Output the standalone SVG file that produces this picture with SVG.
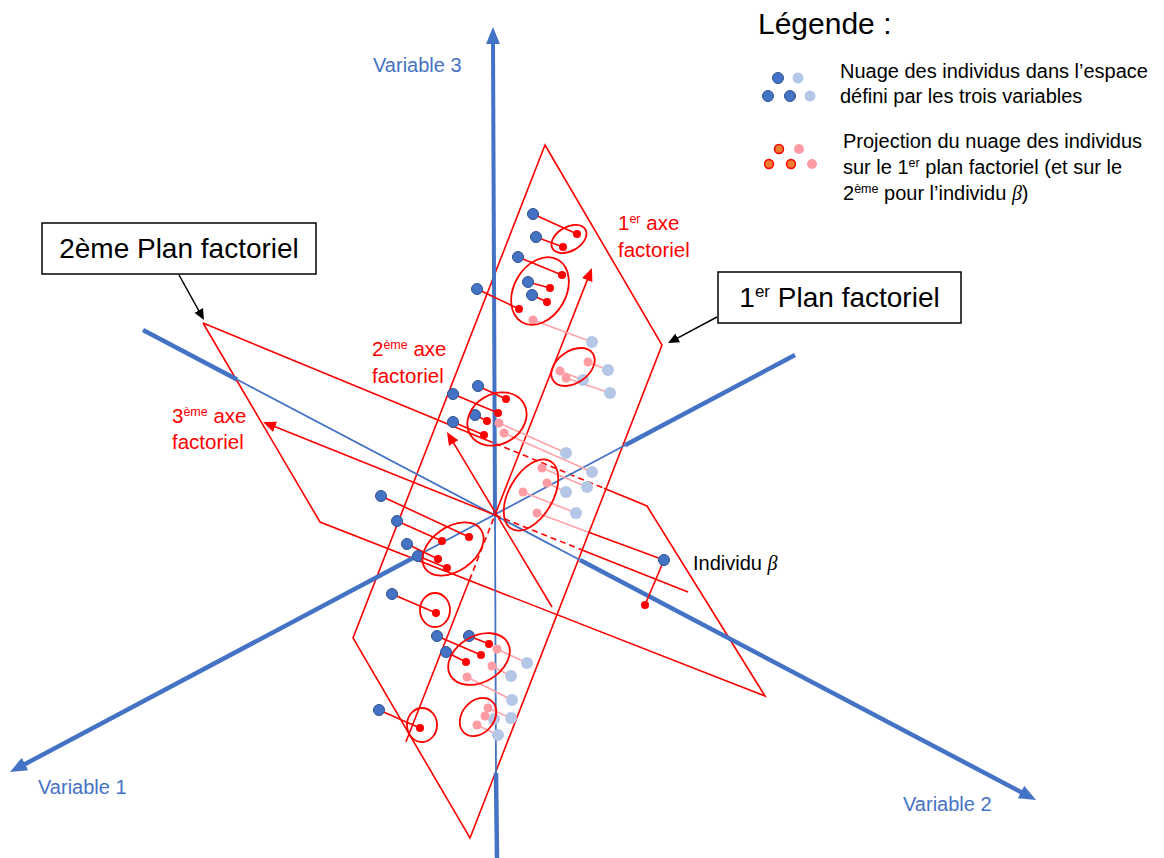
<svg xmlns="http://www.w3.org/2000/svg" width="1164" height="858" viewBox="0 0 1164 858">
<style>
text{font-family:"Liberation Sans",Arial,sans-serif}
.blab{fill:#4472C4;font-size:20px}
.rlab{fill:#FF0000;font-size:20.5px}
.klab{fill:#000;font-size:20px}
.sup{font-size:12.5px}
.beta{font-family:"Liberation Serif","DejaVu Serif",serif;font-style:italic}
.plane{fill:none;stroke:#FF0000;stroke-width:1.6;stroke-linejoin:miter}
.rl{stroke:#FF0000;stroke-width:1.6;fill:none}
.dash{stroke-dasharray:6 4}
.pl{stroke:#FFA3A8;stroke-width:1.6;fill:none}
.ax{stroke:#4472C4;fill:none}
.thick{stroke-width:4.5}
.thin{stroke-width:1.8}
.bd{fill:#4472C4;stroke:#2F528F;stroke-width:1}
.lb{fill:#B4C7E7}
.rd{fill:#FF0000}
.pk{fill:#FF9CA3}
.el{fill:none;stroke:#FF0000;stroke-width:1.8}
.box{fill:#fff;stroke:#000;stroke-width:1.5}
.karrow{stroke:#000;stroke-width:1.5;fill:none}
</style>
<defs>
<marker id="ab" markerUnits="userSpaceOnUse" markerWidth="18" markerHeight="14" refX="4" refY="7" orient="auto"><path d="M0,0 L17,7 L0,14 Z" fill="#4472C4"/></marker>
<marker id="ar" markerUnits="userSpaceOnUse" markerWidth="14" markerHeight="11" refX="4" refY="5.5" orient="auto"><path d="M0,0 L13,5.5 L0,11 Z" fill="#FF0000"/></marker>
<marker id="ak" markerUnits="userSpaceOnUse" markerWidth="12" markerHeight="10" refX="3" refY="5" orient="auto"><path d="M0,0 L11,5 L0,10 Z" fill="#000"/></marker>
</defs>
<rect width="1164" height="858" fill="#fff"/>

<g id="plane1">
<polygon class="plane" points="545,145 662,345 470,838 353,638"/>
</g>
<g id="plane2">
<line class="rl" x1="203" y1="323" x2="495" y2="443.4"/>
<line class="rl dash" x1="495" y1="443.4" x2="604" y2="488.3"/>
<polyline class="plane" points="604,488.3 647,506 765,696 320,522 203,323"/>
</g>

<g id="connectors">
<g id="variable-axes">
<line class="ax thick" x1="497" y1="858" x2="496" y2="773"/>
<line class="ax thin" x1="496" y1="773" x2="495" y2="515"/>
<line class="ax" stroke-width="4" x1="495" y1="515" x2="493" y2="40" marker-end="url(#ab)"/>
<line class="ax thick" x1="795" y1="355" x2="625" y2="445.3"/>
<line class="ax thin" x1="625" y1="445.3" x2="413" y2="558"/>
<line class="ax thick" x1="413" y1="558" x2="21.5" y2="765.9" marker-end="url(#ab)"/>
<line class="ax thick" x1="143" y1="330" x2="237" y2="379.5"/>
<line class="ax thin" x1="237" y1="379.5" x2="580" y2="560"/>
<line class="ax thick" x1="580" y1="560" x2="1024.5" y2="793.9" marker-end="url(#ab)"/>
</g>
<g id="factor-axes">
<line class="rl" x1="405.9" y1="742" x2="469.5" y2="580"/>
<line class="rl dash" x1="469.5" y1="580" x2="495" y2="515"/>
<line class="rl" x1="495" y1="515" x2="588.7" y2="276.4" marker-end="url(#ar)"/>
<line class="rl" x1="552" y1="607" x2="451.6" y2="439.7" marker-end="url(#ar)"/>
<line class="rl" x1="495" y1="515" x2="271.4" y2="425.3" marker-end="url(#ar)"/>
<line class="rl dash" x1="495" y1="515" x2="582" y2="550"/>
<line class="rl" x1="582" y1="550" x2="688" y2="592"/>
</g>
<g id="label-arrows">
<line class="karrow" x1="179" y1="275" x2="200.1" y2="313" marker-end="url(#ak)"/>
<line class="karrow" x1="717" y1="317" x2="675.1" y2="339.3" marker-end="url(#ak)"/>
</g>
</g>

<g id="individuals">
<g id="projection-lines">
<line class="rl" x1="533" y1="214" x2="577" y2="234"/>
<line class="rl" x1="536" y1="237" x2="563" y2="247"/>
<line class="rl" x1="518" y1="257" x2="562" y2="275"/>
<line class="rl" x1="528" y1="282" x2="550" y2="288"/>
<line class="rl" x1="532" y1="295" x2="547" y2="302"/>
<line class="rl" x1="477" y1="289" x2="519" y2="309"/>
<line class="pl" x1="533" y1="320" x2="592" y2="342"/>
<line class="pl" x1="588" y1="362" x2="608" y2="370"/>
<line class="pl" x1="560" y1="371" x2="583" y2="380"/>
<line class="pl" x1="566" y1="378" x2="610" y2="393"/>
<line class="rl" x1="478" y1="386" x2="506" y2="399"/>
<line class="rl" x1="453" y1="394" x2="498" y2="413"/>
<line class="rl" x1="475" y1="415" x2="487" y2="421"/>
<line class="rl" x1="453" y1="422" x2="484" y2="435"/>
<line class="pl" x1="499" y1="423" x2="566" y2="453"/>
<line class="pl" x1="504" y1="433" x2="592" y2="472"/>
<line class="pl" x1="542" y1="468" x2="587" y2="487"/>
<line class="pl" x1="547" y1="483" x2="566" y2="492"/>
<line class="pl" x1="523" y1="492" x2="576" y2="513"/>
<line class="pl" x1="537" y1="513" x2="588" y2="532"/>
<line class="rl" x1="588" y1="532" x2="664" y2="560"/>
<line class="rl" x1="664" y1="560" x2="645" y2="605"/>
<line class="rl" x1="381" y1="496" x2="469" y2="537"/>
<line class="rl" x1="397" y1="521" x2="442" y2="541"/>
<line class="rl" x1="407" y1="544" x2="438" y2="559"/>
<line class="rl" x1="418" y1="556" x2="447" y2="568"/>
<line class="rl" x1="392" y1="594" x2="436" y2="613"/>
<line class="rl" x1="437" y1="636" x2="481" y2="655"/>
<line class="rl" x1="469" y1="636" x2="489" y2="644"/>
<line class="rl" x1="446" y1="652" x2="466" y2="662"/>
<line class="pl" x1="497" y1="649" x2="527" y2="663"/>
<line class="pl" x1="492" y1="666" x2="511" y2="676"/>
<line class="pl" x1="467" y1="677" x2="512" y2="700"/>
<line class="pl" x1="488" y1="708" x2="511" y2="718"/>
<line class="pl" x1="485" y1="716" x2="494" y2="719"/>
<line class="pl" x1="477" y1="725" x2="498" y2="735"/>
<line class="rl" x1="379" y1="710" x2="420" y2="728"/>
</g>
<g id="light-dots">
<circle class="lb" cx="592" cy="342" r="6"/>
<circle class="lb" cx="608" cy="370" r="6"/>
<circle class="lb" cx="583" cy="380" r="6"/>
<circle class="lb" cx="610" cy="393" r="6"/>
<circle class="lb" cx="566" cy="453" r="6"/>
<circle class="lb" cx="592" cy="472" r="6"/>
<circle class="lb" cx="587" cy="487" r="6"/>
<circle class="lb" cx="566" cy="492" r="6"/>
<circle class="lb" cx="576" cy="513" r="6"/>
<circle class="lb" cx="527" cy="663" r="6"/>
<circle class="lb" cx="511" cy="676" r="6"/>
<circle class="lb" cx="512" cy="700" r="6"/>
<circle class="lb" cx="511" cy="718" r="6"/>
<circle class="lb" cx="494" cy="719" r="6"/>
<circle class="lb" cx="498" cy="735" r="6"/>
<circle class="pk" cx="533" cy="320" r="4.5"/>
<circle class="pk" cx="588" cy="362" r="4.5"/>
<circle class="pk" cx="560" cy="371" r="4.5"/>
<circle class="pk" cx="566" cy="378" r="4.5"/>
<circle class="pk" cx="499" cy="423" r="4.5"/>
<circle class="pk" cx="504" cy="433" r="4.5"/>
<circle class="pk" cx="542" cy="468" r="4.5"/>
<circle class="pk" cx="547" cy="483" r="4.5"/>
<circle class="pk" cx="523" cy="492" r="4.5"/>
<circle class="pk" cx="537" cy="513" r="4.5"/>
<circle class="pk" cx="497" cy="649" r="4.5"/>
<circle class="pk" cx="492" cy="666" r="4.5"/>
<circle class="pk" cx="467" cy="677" r="4.5"/>
<circle class="pk" cx="488" cy="708" r="4.5"/>
<circle class="pk" cx="485" cy="716" r="4.5"/>
<circle class="pk" cx="477" cy="725" r="4.5"/>
</g>
<g id="blue-dots">
<circle class="bd" cx="533" cy="214" r="5.5"/>
<circle class="bd" cx="536" cy="237" r="5.5"/>
<circle class="bd" cx="518" cy="257" r="5.5"/>
<circle class="bd" cx="528" cy="282" r="5.5"/>
<circle class="bd" cx="532" cy="295" r="5.5"/>
<circle class="bd" cx="477" cy="289" r="5.5"/>
<circle class="bd" cx="478" cy="386" r="5.5"/>
<circle class="bd" cx="453" cy="394" r="5.5"/>
<circle class="bd" cx="475" cy="415" r="5.5"/>
<circle class="bd" cx="453" cy="422" r="5.5"/>
<circle class="bd" cx="381" cy="496" r="5.5"/>
<circle class="bd" cx="397" cy="521" r="5.5"/>
<circle class="bd" cx="407" cy="544" r="5.5"/>
<circle class="bd" cx="418" cy="556" r="5.5"/>
<circle class="bd" cx="392" cy="594" r="5.5"/>
<circle class="bd" cx="437" cy="636" r="5.5"/>
<circle class="bd" cx="469" cy="636" r="5.5"/>
<circle class="bd" cx="446" cy="652" r="5.5"/>
<circle class="bd" cx="379" cy="710" r="5.5"/>
<circle class="bd" cx="664" cy="560" r="5.5"/>
</g>
<g id="red-dots">
<circle class="rd" cx="577" cy="234" r="4"/>
<circle class="rd" cx="563" cy="247" r="4"/>
<circle class="rd" cx="562" cy="275" r="4"/>
<circle class="rd" cx="550" cy="288" r="4"/>
<circle class="rd" cx="547" cy="302" r="4"/>
<circle class="rd" cx="519" cy="309" r="4"/>
<circle class="rd" cx="506" cy="399" r="4"/>
<circle class="rd" cx="498" cy="413" r="4"/>
<circle class="rd" cx="487" cy="421" r="4"/>
<circle class="rd" cx="484" cy="435" r="4"/>
<circle class="rd" cx="469" cy="537" r="4"/>
<circle class="rd" cx="442" cy="541" r="4"/>
<circle class="rd" cx="438" cy="559" r="4"/>
<circle class="rd" cx="447" cy="568" r="4"/>
<circle class="rd" cx="436" cy="613" r="4"/>
<circle class="rd" cx="481" cy="655" r="4"/>
<circle class="rd" cx="489" cy="644" r="4"/>
<circle class="rd" cx="466" cy="662" r="4"/>
<circle class="rd" cx="420" cy="728" r="4"/>
<circle class="rd" cx="645" cy="605" r="4"/>
</g>
<g id="clusters">
<ellipse class="el" cx="569" cy="239" rx="19" ry="12" transform="rotate(-30 569 239)"/>
<ellipse class="el" cx="540" cy="291" rx="36" ry="26" transform="rotate(-60 540 291)"/>
<ellipse class="el" cx="573" cy="367" rx="24" ry="16" transform="rotate(-35 573 367)"/>
<ellipse class="el" cx="497" cy="419" rx="31" ry="25" transform="rotate(-30 497 419)"/>
<ellipse class="el" cx="531" cy="495" rx="39" ry="22" transform="rotate(-60 531 495)"/>
<ellipse class="el" cx="453" cy="549" rx="34" ry="22" transform="rotate(-35 453 549)"/>
<ellipse class="el" cx="435" cy="610" rx="15" ry="17"/>
<ellipse class="el" cx="479" cy="659" rx="33" ry="23" transform="rotate(-30 479 659)"/>
<ellipse class="el" cx="478" cy="717" rx="21" ry="16" transform="rotate(-50 478 717)"/>
<ellipse class="el" cx="422" cy="725" rx="15" ry="17"/>
</g>
</g>

<g id="axis-labels">
<text class="blab" x="373" y="71.5">Variable 3</text>
<text class="blab" x="38" y="794">Variable 1</text>
<text class="blab" x="903" y="811">Variable 2</text>
<text class="rlab" x="618" y="230">1<tspan class="sup" dy="-7">er</tspan><tspan dy="7"> axe</tspan></text>
<text class="rlab" x="618" y="256.5">factoriel</text>
<text class="rlab" x="372" y="356">2<tspan class="sup" dy="-7">ème</tspan><tspan dy="7"> axe</tspan></text>
<text class="rlab" x="372" y="382.5">factoriel</text>
<text class="rlab" x="172" y="423">3<tspan class="sup" dy="-7">ème</tspan><tspan dy="7"> axe</tspan></text>
<text class="rlab" x="172" y="449">factoriel</text>
<text class="klab" x="693" y="570">Individu <tspan class="beta">β</tspan></text>
</g>

<g id="box-plan2">
<rect class="box" x="42" y="223" width="274" height="51"/>
<text x="179" y="258" font-size="28" text-anchor="middle" fill="#000">2ème Plan factoriel</text>
</g>
<g id="box-plan1">
<rect class="box" x="718" y="272" width="243" height="51"/>
<text x="839.5" y="307" font-size="28" text-anchor="middle" fill="#000">1<tspan font-size="17" dy="-10">er</tspan><tspan dy="10"> Plan factoriel</tspan></text>
</g>

<g id="legend">
<text x="758" y="34" font-size="30" fill="#000">Légende :</text>
<circle class="bd" cx="778" cy="78" r="5.5"/>
<circle class="lb" cx="798" cy="78" r="5.5"/>
<circle class="bd" cx="768" cy="96" r="5.5"/>
<circle class="bd" cx="790" cy="96" r="5.5"/>
<circle class="lb" cx="810" cy="96" r="5.5"/>
<text class="klab" x="840" y="78">Nuage des individus dans l’espace</text>
<text class="klab" x="840" y="103">défini par les trois variables</text>
<circle cx="779" cy="149" r="4.5" fill="#ED7D31" stroke="#FF0000" stroke-width="1.5"/>
<circle class="pk" cx="799" cy="149" r="5"/>
<circle cx="769" cy="164" r="4.5" fill="#ED7D31" stroke="#FF0000" stroke-width="1.5"/>
<circle cx="791" cy="164" r="4.5" fill="#ED7D31" stroke="#FF0000" stroke-width="1.5"/>
<circle class="pk" cx="812" cy="164" r="5"/>
<text class="klab" x="843" y="148">Projection du nuage des individus</text>
<text class="klab" x="843" y="174">sur le 1<tspan class="sup" dy="-7">er</tspan><tspan dy="7"> plan factoriel (et sur le</tspan></text>
<text class="klab" x="843" y="200">2<tspan class="sup" dy="-7">ème</tspan><tspan dy="7"> pour l’individu </tspan><tspan class="beta">β</tspan>)</text>
</g>
</svg>
